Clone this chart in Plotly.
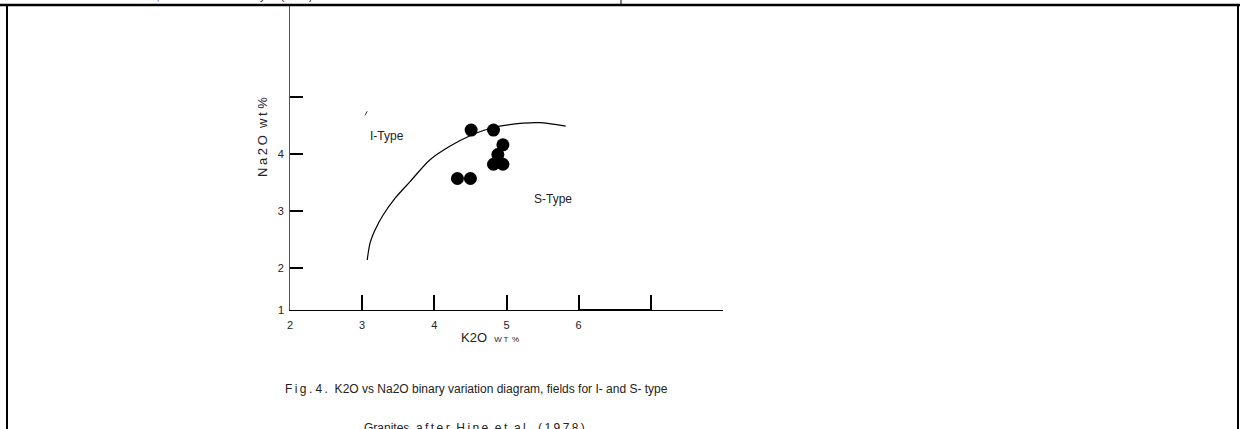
import plotly.graph_objects as go

# ---- data ----
K2O = [4.51, 4.82, 4.95, 4.88, 4.82, 4.95, 4.32, 4.50]
NA2O = [4.42, 4.42, 4.16, 3.99, 3.82, 3.82, 3.57, 3.57]

BOUNDARY_K2O = [3.07, 3.11, 3.18, 3.29, 3.46, 3.66, 3.94, 4.22, 4.51, 4.83, 5.23, 5.46, 5.82]
BOUNDARY_NA2O = [2.14, 2.44, 2.67, 2.93, 3.23, 3.51, 3.90, 4.14, 4.33, 4.47, 4.54, 4.55, 4.49]

STRAY_K2O = [3.04, 3.07]
STRAY_NA2O = [4.68, 4.75]

X_TICKS = [2, 3, 4, 5, 6, 7, 8]
X_TICK_LABELS = ['2', '3', '4', '5', '6', '', '']
Y_TICKS = [2, 3, 4, 5]
Y_TICK_LABELS = ['2', '3', '4', '']
Y_ORIGIN_LABEL = '1'
X_RANGE = [2, 8]
Y_RANGE = [1.263, 6.614]

FONT = "Liberation Sans, Arial, sans-serif"
TXT = "#222222"
TS = "\u2009"  # thin space used for letter-spaced texts

fig = go.Figure()

fig.add_trace(go.Scatter(x=BOUNDARY_K2O, y=BOUNDARY_NA2O, mode="lines",
                         line=dict(color="black", width=1.2, shape="spline", smoothing=0.8),
                         hoverinfo="skip", showlegend=False))
fig.add_trace(go.Scatter(x=STRAY_K2O, y=STRAY_NA2O, mode="lines",
                         line=dict(color="#333", width=1), hoverinfo="skip", showlegend=False))
# slightly thicker stretch of the x axis between 6 and 7
fig.add_trace(go.Scatter(x=[6, 7], y=[Y_RANGE[0], Y_RANGE[0]], mode="lines",
                         line=dict(color="black", width=2), hoverinfo="skip",
                         showlegend=False, cliponaxis=False))
fig.add_trace(go.Scatter(x=K2O, y=NA2O, mode="markers",
                         marker=dict(color="black", size=13),
                         showlegend=False, cliponaxis=False))

L, R, T, B = 290, 1240 - 723, 5, 429 - 310
PW, PH = 1240 - L - R, 429 - T - B

def px(xp):
    return (xp - L) / PW

def py(yp):
    return (429 - B - yp) / PH

shapes = [
    dict(type="line", xref="paper", yref="paper", x0=px(0), x1=px(1240), y0=py(5), y1=py(5),
         line=dict(color="black", width=2.5)),
    dict(type="line", xref="paper", yref="paper", x0=px(7), x1=px(7), y0=py(5), y1=py(430),
         line=dict(color="black", width=2)),
    dict(type="line", xref="paper", yref="paper", x0=px(1238), x1=px(1238), y0=py(5), y1=py(430),
         line=dict(color="black", width=2)),
    dict(type="line", xref="paper", yref="paper", x0=px(621), x1=px(621), y0=py(-2), y1=py(5),
         line=dict(color="black", width=1)),
]

spaced = lambda s: TS.join(s)

annotations = [
    dict(text="I-Type", x=3.35, y=4.32, xref="x", yref="y", showarrow=False,
         font=dict(family=FONT, size=12, color=TXT)),
    dict(text="S-Type", x=5.64, y=3.21, xref="x", yref="y", showarrow=False,
         font=dict(family=FONT, size=12, color=TXT)),
    dict(text=Y_ORIGIN_LABEL, x=2, y=Y_RANGE[0], xref="x", yref="y", showarrow=False,
         xanchor="right", xshift=-4, font=dict(family=FONT, size=11, color=TXT)),
    dict(text=spaced("Na2O") + "  " + spaced("wt") + " %", x=px(263), y=py(137),
         xref="paper", yref="paper", showarrow=False,
         xanchor="center", yanchor="middle",
         textangle=-90, font=dict(family=FONT, size=13, color=TXT)),
    dict(text="K2O  <span style='font-size:8px'>W" + TS + "T" + TS + " %</span>",
         x=px(490), y=py(347),
         xref="paper", yref="paper", showarrow=False,
         font=dict(family=FONT, size=13, color=TXT)),
    dict(text=spaced("Fig.") + " " + spaced("4.") + "  K2O vs Na2O binary variation diagram, fields for I- and S- type",
         x=px(283), y=py(398), xref="paper", yref="paper", xanchor="left", showarrow=False,
         font=dict(family=FONT, size=12, color=TXT)),
    dict(text="Granites, " + spaced("after") + "  " + spaced("Hine") + "  " + spaced("et")
         + "  " + spaced("al.") + "  " + spaced("(1978)"),
         x=px(362), y=py(428), xref="paper", yref="paper", xanchor="left", yanchor="middle",
         showarrow=False, font=dict(family=FONT, size=12, color=TXT)),
    dict(text="Granites, after Roberts and taylor (1989)",
         x=px(113), y=py(-4), xref="paper", yref="paper", xanchor="left", yanchor="middle",
         showarrow=False, font=dict(family=FONT, size=11, color=TXT)),
]

fig.update_layout(
    width=1240, height=429,
    margin=dict(l=L, r=R, t=T, b=B),
    paper_bgcolor="white", plot_bgcolor="white",
    font=dict(family=FONT, size=11, color=TXT),
    xaxis=dict(range=X_RANGE, tickvals=X_TICKS, ticktext=X_TICK_LABELS,
               showgrid=False, zeroline=False, showline=True, linecolor="black", linewidth=1,
               ticks="inside", ticklen=15, tickwidth=1.5, tickcolor="black",
               ticklabelstandoff=5, tickfont=dict(family=FONT, size=11, color=TXT)),
    yaxis=dict(range=Y_RANGE, tickvals=Y_TICKS, ticktext=Y_TICK_LABELS,
               showgrid=False, zeroline=False, showline=True, linecolor="#555", linewidth=1,
               ticks="inside", ticklen=13, tickwidth=2, tickcolor="black",
               ticklabelstandoff=3, tickfont=dict(family=FONT, size=11, color=TXT)),
    shapes=shapes, annotations=annotations,
)

fig.write_html("out.html", config={"displayModeBar": False},
               post_script="document.body.style.margin='0px';document.body.style.overflow='hidden';")
